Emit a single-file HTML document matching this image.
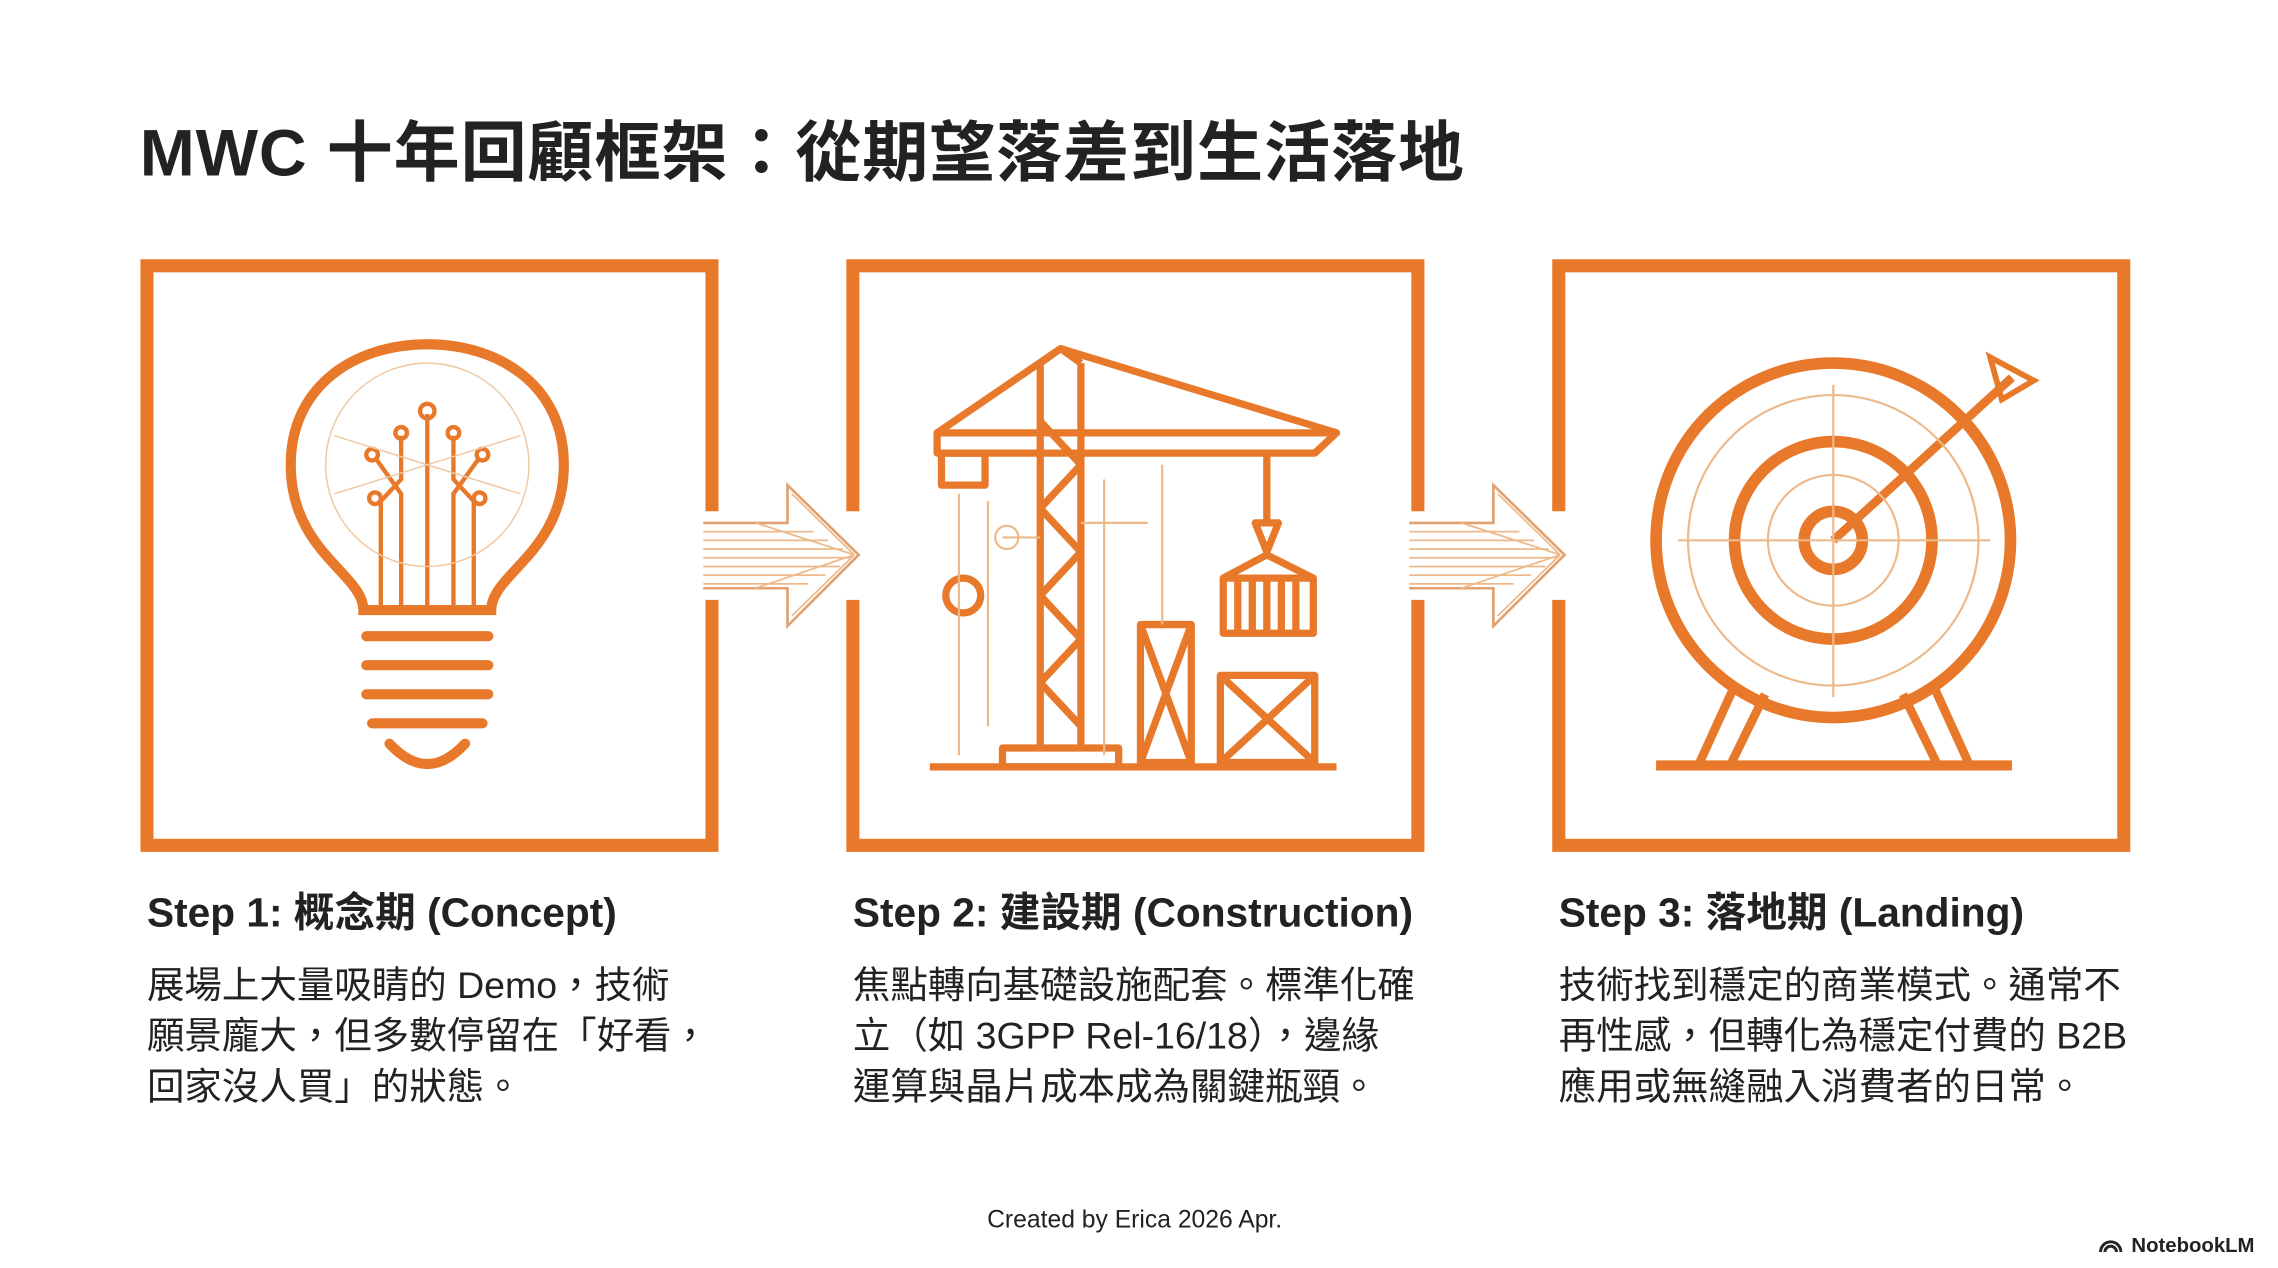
<!DOCTYPE html>
<html><head><meta charset="utf-8"><style>
html,body{margin:0;padding:0;background:#fff;}
svg{display:block;}
text{font-family:"Liberation Sans","Noto Sans CJK TC",sans-serif;fill:#222;}
</style></head><body>
<svg width="2278" height="1268" viewBox="0 0 1568 873" xmlns="http://www.w3.org/2000/svg">
<rect width="1568" height="873" fill="#fff"/>
<text x="96" y="121" font-size="45.5" font-weight="bold" fill="#2a2a2a" letter-spacing="0.6">MWC 十年回顧框架：從期望落差到生活落地</text>

<g fill="none" stroke="#E8792B" stroke-width="9">
<rect x="101" y="183" width="389" height="399"/>
<rect x="587" y="183" width="389" height="399"/>
<rect x="1073" y="183" width="389" height="399"/>
</g>
<rect x="480" y="352" width="120" height="61" fill="#fff"/>
<rect x="966" y="352" width="120" height="61" fill="#fff"/>

<g stroke="#E8A060" stroke-width="1.2" fill="none">
<g id="ar">
<path d="M484 360 H542 V334 L591 382 L542 431 V405 H484" stroke="#E0A070" stroke-width="1.8"/>
<path d="M484 366H560M484 372H570M484 378H580M484 384H585M484 390H578M484 396H568M484 402H556" stroke="#EDB98A"/>
<path d="M545 340L588 382M545 424L588 382M520 360L588 382M520 405L588 382" stroke="#EDB98A"/>
</g>
<use href="#ar" transform="translate(486,0)"/>
</g>

<g fill="none" stroke="#E8792B" stroke-width="7" stroke-linecap="round">
<path d="M250 420 C250 395 200 380 200 320 C200 265 245 237 294 237 C343 237 388 265 388 320 C388 380 338 395 338 420 Z"/>
<path d="M252 438 H336 M252 458 H336 M252 478 H336 M256 498 H332"/>
<path d="M268 512 Q294 540 320 512"/>
</g>
<g fill="none" stroke="#E8792B" stroke-width="3">
<path d="M294 285 V420 M276 300 V330 L262 345 V420 M312 300 V330 L326 345 V420 M258 315 L276 340 V420 M330 315 L312 340 V420"/>
<circle cx="294" cy="283" r="5"/><circle cx="276" cy="298" r="4"/><circle cx="312" cy="298" r="4"/><circle cx="256" cy="313" r="4"/><circle cx="332" cy="313" r="4"/><circle cx="258" cy="343" r="4"/><circle cx="330" cy="343" r="4"/>
</g>
<g fill="none" stroke="#F0C8A0" stroke-width="1"><circle cx="294" cy="320" r="70"/><path d="M230 300 L358 340 M230 340 L358 300"/></g>

<g fill="none" stroke="#E8792B" stroke-width="5" stroke-linejoin="round">
<path d="M716 250 V515 M744 250 V515 M716 250 L730 240 L744 250"/>
<path d="M716 290 L744 320 L716 350 L744 380 L716 410 L744 440 L716 470 L744 500"/>
<path d="M645 298 H920 L905 312 H645 Z"/>
<path d="M730 240 L645 298 M730 240 L920 298"/>
<rect x="648" y="312" width="30" height="22"/>
<path d="M872 312 V360 M864 360 H880 L872 380 Z"/>
<rect x="842" y="398" width="62" height="38"/>
<path d="M852 398 V436 M862 398 V436 M872 398 V436 M882 398 V436 M892 398 V436 M842 398 L872 382 L904 398"/>
<rect x="785" y="430" width="35" height="95"/><path d="M785 430 L820 525 M820 430 L785 525"/>
<rect x="840" y="465" width="65" height="60"/><path d="M840 465 L905 525 M905 465 L840 525"/>
<path d="M640 528 H920"/><path d="M690 515 H770 V528 H690 Z"/>
<circle cx="663" cy="410" r="12"/>
</g>
<g fill="none" stroke="#EDB98A" stroke-width="1.5"><path d="M660 340 V520 M680 345 V500 M760 330 V520 M800 320 V430 M690 370 H716 M744 360 H790"/><circle cx="693" cy="370" r="8"/></g>

<g fill="none" stroke="#E8792B" stroke-width="8">
<circle cx="1262" cy="372" r="122"/>
<circle cx="1262" cy="372" r="68"/>
<circle cx="1262" cy="372" r="20"/>
<path d="M1140 527 H1385" stroke-width="7"/>
<path d="M1195 470 L1170 525 M1215 478 L1192 525 M1330 470 L1355 525 M1310 478 L1333 525" stroke-width="6"/>
<path d="M1262 372 L1385 260" stroke-width="6"/>
<path d="M1370 246 L1400 262 L1378 275 Z" stroke-width="4"/>
</g>
<g fill="none" stroke="#EDB98A" stroke-width="1.5"><circle cx="1262" cy="372" r="100"/><circle cx="1262" cy="372" r="45"/><path d="M1155 372 H1370 M1262 265 V480"/></g>

<text x="101" y="638" font-size="28" font-weight="bold">Step 1: 概念期 (Concept)</text>
<text x="101" y="687" font-size="25.8">展場上大量吸睛的 Demo，技術</text>
<text x="101" y="722" font-size="25.8">願景龐大，但多數停留在「好看，</text>
<text x="101" y="757" font-size="25.8">回家沒人買」的狀態。</text>

<text x="587" y="638" font-size="28" font-weight="bold">Step 2: 建設期 (Construction)</text>
<text x="587" y="687" font-size="25.8">焦點轉向基礎設施配套。標準化確</text>
<text x="587" y="722" font-size="25.8">立（如 3GPP Rel-16/18），邊緣</text>
<text x="587" y="757" font-size="25.8">運算與晶片成本成為關鍵瓶頸。</text>

<text x="1073" y="638" font-size="28" font-weight="bold">Step 3: 落地期 (Landing)</text>
<text x="1073" y="687" font-size="25.8">技術找到穩定的商業模式。通常不</text>
<text x="1073" y="722" font-size="25.8">再性感，但轉化為穩定付費的 B2B</text>
<text x="1073" y="757" font-size="25.8">應用或無縫融入消費者的日常。</text>

<text x="781" y="845" font-size="17" text-anchor="middle" fill="#333">Created by Erica 2026 Apr.</text>
<text x="1552" y="862" font-size="14" font-weight="bold" text-anchor="end">NotebookLM</text>
<path d="M1446 862 A7 7 0 0 1 1460 862 M1449 862 A4 4 0 0 1 1457 862" fill="none" stroke="#222" stroke-width="2"/>
</svg>
</body></html>
